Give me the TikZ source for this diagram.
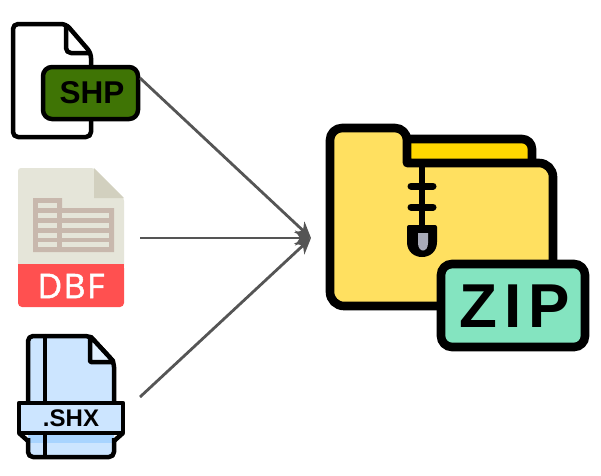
\documentclass[tikz,border=0pt]{standalone}
\usepackage{fontspec}
\setmainfont{Liberation Sans}
\newfontfamily\dbffont[LetterSpace=4,FakeBold=1.5]{Open Sans}
\newfontfamily\zipfont[LetterSpace=11]{Liberation Sans}
\usetikzlibrary{arrows.meta}
\definecolor{shpgreen}{HTML}{3F7405}
\definecolor{dbfpaper}{HTML}{E5E5D9}
\definecolor{dbffold}{HTML}{D2D0BF}
\definecolor{dbfgrid}{HTML}{C8B8AD}
\definecolor{dbfred}{HTML}{FF5050}
\definecolor{shxbody}{HTML}{CCE5FF}
\definecolor{shxfold}{HTML}{E3F1FF}
\definecolor{shxstrip}{HTML}{A8D4FF}
\definecolor{foldfront}{HTML}{FFE060}
\definecolor{foldback}{HTML}{FFD700}
\definecolor{zipgreen}{HTML}{84E4C0}
\definecolor{zipgray}{HTML}{A8AAB8}
\definecolor{arrowgray}{HTML}{555555}
\tikzset{
  iconline/.style={draw=black,line width=4.5pt,line join=round},
  folderline/.style={draw=black,line width=8.6pt,line join=round},
  connector/.style={draw=arrowgray,line width=2.8pt,-{Stealth[length=16pt,width=15pt,inset=5pt]}},
  cellbox/.style={fill=dbfpaper,draw=none},
  lbl/.style={inner sep=0pt,outer sep=0pt,anchor=center}
}
\begin{document}
\begin{tikzpicture}[x=1pt,y=-1pt]
\useasboundingbox (0,0) rectangle (601,475);
\fill[white] (0,0) rectangle (601,475);
% SHP
\draw[iconline,fill=white,rounded corners=5pt] (13,24) -- (66,24) -- (91,53) -- (91,137) -- (13,137) -- cycle;
\draw[iconline,rounded corners=5pt] (66,24) -- (66,53) -- (91,53);
\node[lbl,draw=black,line width=4.5pt,fill=shpgreen,rounded corners=9pt,minimum width=95pt,minimum height=52pt] (shp) at (90.5,93) {};
\node[lbl,font=\bfseries\fontsize{31.5pt}{32pt}\selectfont] (shptext) at (92,93) {SHP};
% DBF
\fill[dbfpaper,rounded corners=3pt] (18,168) -- (94,168) -- (124,198) -- (124,270) -- (18,270) -- cycle;
\fill[dbffold] (94,168) -- (124,198) -- (94,198) -- cycle;
\fill[dbfred,rounded corners=4pt] (18,264) -- (124,264) -- (124,307) -- (18,307) -- cycle;
\fill[dbfred] (18,264) rectangle (124,272);
\fill[dbfgrid] (33,198) -- (62,198) -- (62,208) -- (114,208) -- (114,252) -- (33,252) -- cycle;
\fill[cellbox] (38,203) rectangle (57,208);
\foreach \ya/\yb in {213/218,223/228,233/238,242/247}{
  \fill[cellbox] (38,\ya) rectangle (57,\yb);
  \fill[cellbox] (62,\ya) rectangle (109,\yb);
}
\node[lbl,text=white,font=\dbffont\fontsize{34pt}{34pt}\selectfont] (dbf) at (71,286) {DBF};
% SHX
\fill[shxbody,rounded corners=5pt] (28,336) -- (90,336) -- (114,362) -- (114,457) -- (28,457) -- cycle;
\fill[shxstrip] (28,433) rectangle (114,443);
\draw[iconline,rounded corners=5pt] (45,336) -- (90,336) -- (114,362) -- (114,410);
\draw[iconline,rounded corners=5pt] (45,336) -- (28,336) -- (28,410);
\draw[iconline,fill=shxfold,rounded corners=1pt] (90,336) -- (90,362) -- (114,362) -- cycle;
\draw[iconline] (45,336) -- (45,457);
\draw[iconline,rounded corners=5pt] (28,438) -- (28,457) -- (114,457) -- (114,438);
\draw[iconline,fill=shxbody] (19,403) -- (123,403) -- (123,433) -- (19,433) -- cycle;
\draw[iconline] (19,433) -- (28,441);
\draw[iconline] (123,433) -- (114,441);
\node[lbl,font=\bfseries\fontsize{24pt}{24pt}\selectfont] (shx) at (71,418) {.SHX};
% folder
\draw[folderline,fill=foldback,rounded corners=10pt] (400,139) -- (532,139) -- (532,175) -- (400,175) -- cycle;
\path[folderline,fill=foldfront] [rounded corners=12pt] (330,306) -- (330,128) -- (407,128) [rounded corners=0pt] -- (407,163) [rounded corners=14pt] -- (553,163) -- (553,306) -- cycle;
% zipper
\draw[draw=black,line width=6pt] (422,163) -- (422,235);
\draw[draw=black,line width=7pt,line cap=round] (411,186) -- (433,186);
\draw[draw=black,line width=7pt,line cap=round] (411,207) -- (433,207);
\fill[black,rounded corners=2pt] (407,225) -- (437,225) -- (437,240) .. controls (437,262) and (407,262) .. (407,240) -- cycle;
\fill[zipgray] (418,233) -- (428,233) -- (428,243) .. controls (428,253) and (418,253) .. (418,243) -- cycle;
% zip label
\node[lbl,draw=black,line width=8.6pt,fill=zipgreen,rounded corners=11pt,minimum width=144pt,minimum height=83pt] (zip) at (513,305.5) {};
\node[lbl,font=\zipfont\bfseries\fontsize{62pt}{62pt}\selectfont] (ziptext) at (514.5,306) {ZIP};
% connectors
\coordinate (shpout) at (140,78);
\coordinate (dbfout) at (140,238);
\coordinate (shxout) at (140,397);
\coordinate (target) at (311,238);
\draw[connector] (shpout) -- (target);
\draw[connector] (dbfout) -- (target);
\draw[connector] (shxout) -- (target);
\end{tikzpicture}
\end{document}
